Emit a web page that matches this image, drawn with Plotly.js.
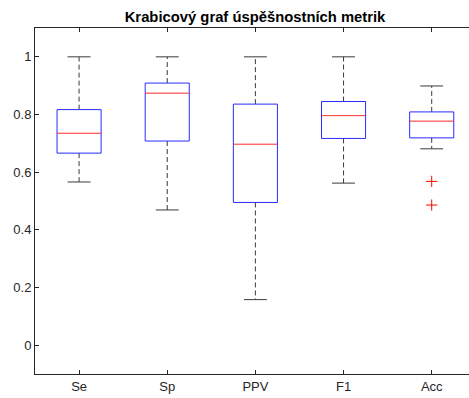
<!DOCTYPE html>
<html>
<head>
<meta charset="utf-8">
<script src="https://cdn.plot.ly/plotly-3.0.1.min.js"></script>
<style>
  html, body { margin: 0; padding: 0; background: #ffffff; }
  #chart { width: 469px; height: 398px; }
</style>
</head>
<body>
<div id="chart"></div>
<script>
// Summary statistics of the success metrics, one entry per metric
const categories   = ['Se', 'Sp', 'PPV', 'F1', 'Acc'];
const lowerWhisker = [0.566, 0.469, 0.158, 0.562, 0.681];
const q1           = [0.666, 0.708, 0.495, 0.717, 0.719];
const median       = [0.735, 0.874, 0.697, 0.796, 0.777];
const q3           = [0.817, 0.909, 0.836, 0.845, 0.809];
const upperWhisker = [1.000, 1.000, 1.000, 1.000, 0.899];
const outliers     = [[], [], [], [], [0.568, 0.486]];

const boxHalf = 0.25;   // half width of each box
const capHalf = 0.13;   // half width of whisker caps

const boxX = [], boxY = [], medX = [], medY = [];
const whX = [], whY = [], capX = [], capY = [];
const outX = [], outY = [];

categories.forEach((c, i) => {
  const x = i + 1;
  boxX.push(x - boxHalf, x + boxHalf, x + boxHalf, x - boxHalf, x - boxHalf, null);
  boxY.push(q1[i], q1[i], q3[i], q3[i], q1[i], null);

  medX.push(x - boxHalf, x + boxHalf, null);
  medY.push(median[i], median[i], null);

  whX.push(x, x, null, x, x, null);
  whY.push(q3[i], upperWhisker[i], null, q1[i], lowerWhisker[i], null);

  capX.push(x - capHalf, x + capHalf, null, x - capHalf, x + capHalf, null);
  capY.push(upperWhisker[i], upperWhisker[i], null, lowerWhisker[i], lowerWhisker[i], null);

  outliers[i].forEach(v => { outX.push(x); outY.push(v); });
});

const traces = [
  { x: whX, y: whY, type: 'scatter', mode: 'lines', hoverinfo: 'skip',
    line: { color: '#3a3a3a', width: 1, dash: '5px,3px' } },
  { x: capX, y: capY, type: 'scatter', mode: 'lines', hoverinfo: 'skip',
    line: { color: '#3a3a3a', width: 1 } },
  { x: boxX, y: boxY, type: 'scatter', mode: 'lines', hoverinfo: 'skip',
    line: { color: '#2a2aff', width: 1 } },
  { x: medX, y: medY, type: 'scatter', mode: 'lines', hoverinfo: 'skip',
    line: { color: '#ff2a2a', width: 1 } },
  { x: outX, y: outY, type: 'scatter', mode: 'markers', hoverinfo: 'skip',
    marker: { symbol: 'cross-thin-open', size: 8, color: '#ff0000',
              line: { color: '#ff0000', width: 1 } } }
];

const axisColor = '#262626';
const font = { family: 'Liberation Sans, Arial, sans-serif', size: 13, color: axisColor };

const layout = {
  width: 469, height: 398,
  margin: { l: 35, r: 0, t: 28, b: 24 },
  paper_bgcolor: '#ffffff', plot_bgcolor: '#ffffff',
  showlegend: false,
  font: font,
  title: {
    text: '<b>Krabicový graf úspěšnostních metrik</b>',
    font: { family: 'Liberation Sans, Arial, sans-serif', size: 14.8, color: '#000000' },
    xref: 'paper', x: 0.507, xanchor: 'center',
    yref: 'container', y: 1 - 17 / 398, yanchor: 'middle'
  },
  xaxis: {
    range: [0.5, 5.423],
    tickmode: 'array',
    tickvals: categories.map((c, i) => i + 1),
    ticktext: categories,
    showgrid: false, zeroline: false,
    showline: true, linecolor: axisColor, linewidth: 1,
    mirror: 'ticks',
    ticks: 'inside', ticklen: 4, tickcolor: axisColor, tickwidth: 1,
    tickfont: font
  },
  yaxis: {
    range: [-0.1, 1.1],
    tickmode: 'array',
    tickvals: [0, 0.2, 0.4, 0.6, 0.8, 1],
    ticktext: ['0', '0.2', '0.4', '0.6', '0.8', '1'],
    showgrid: false, zeroline: false,
    showline: true, linecolor: axisColor, linewidth: 1,
    ticks: 'inside', ticklen: 4, tickcolor: axisColor, tickwidth: 1,
    tickfont: font
  }
};

Plotly.newPlot('chart', traces, layout, { staticPlot: true, displayModeBar: false });
</script>
</body>
</html>
